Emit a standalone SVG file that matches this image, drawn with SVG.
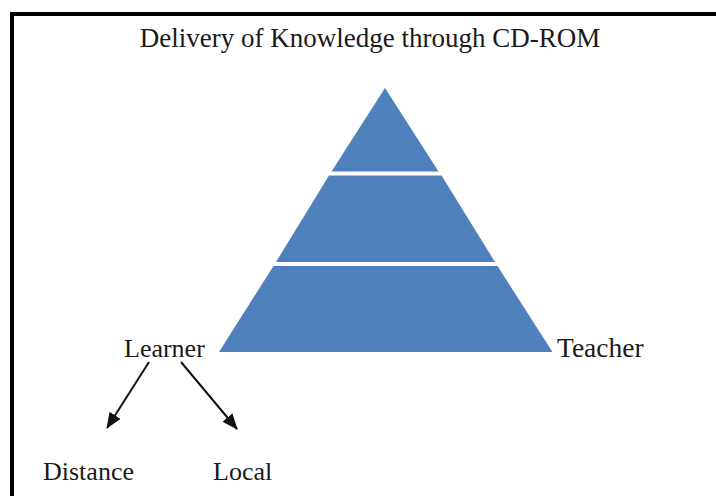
<svg xmlns="http://www.w3.org/2000/svg" width="716" height="496" viewBox="0 0 716 496">
<style>
.lbl{font-family:"Liberation Serif","Times New Roman",serif;font-size:26px;fill:#1a1a1a}
.tier{fill:#4F81BD}
.conn{stroke:#111;stroke-width:2;fill:none}
</style>
<defs>
<marker id="ah" markerUnits="userSpaceOnUse" markerWidth="16" markerHeight="13" refX="15" refY="6.5" orient="auto">
<path d="M0,0 L16,6.5 L0,13 Z" fill="#111"/>
</marker>
</defs>
<rect width="716" height="496" fill="#fff"/>
<path d="M12,496 V14 H716" fill="none" stroke="#000" stroke-width="4"/>
<text class="lbl" x="370" y="47" text-anchor="middle" style="font-size:27px">Delivery of Knowledge through CD-ROM</text>
<g id="pyramid">
<polygon id="tier-top" class="tier" points="385,88 438.5,171.5 331.5,171.5"/>
<polygon id="tier-middle" class="tier" points="329,175.5 441.5,175.5 495,262 276,262"/>
<polygon id="tier-bottom" class="tier" points="273.5,266 497.5,266 552.5,352 219,352"/>
</g>
<g id="learner"><text class="lbl" x="124" y="357">Learner</text></g>
<g id="teacher"><text class="lbl" x="557" y="357" style="font-size:27.5px">Teacher</text></g>
<g id="distance"><text class="lbl" x="43" y="480">Distance</text></g>
<g id="local"><text class="lbl" x="213" y="480">Local</text></g>
<g id="connectors">
<line class="conn" x1="149" y1="362" x2="107" y2="428" marker-end="url(#ah)"/>
<line class="conn" x1="181" y1="362" x2="237" y2="429" marker-end="url(#ah)"/>
</g>
</svg>
